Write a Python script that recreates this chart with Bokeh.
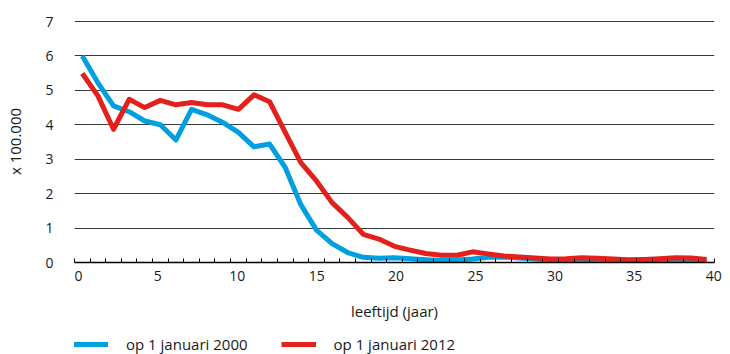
from bokeh.plotting import figure
from bokeh.layouts import column
from bokeh.models import Range1d, FixedTicker, Legend, LegendItem, LinearAxis
from bokeh.embed import file_html
from bokeh.resources import INLINE

# ages (categories 0..40)
ages = list(range(41))
age_ticks = [0, 5, 10, 15, 20, 25, 30, 35, 40]

# x 100.000
jan_2000 = [6.00, 5.22, 4.55, 4.38, 4.11, 4.00, 3.56, 4.45, 4.29, 4.07,
            3.78, 3.36, 3.44, 2.76, 1.68, 0.94, 0.55, 0.29, 0.15, 0.12,
            0.14, 0.11, 0.08, 0.06, 0.07, 0.10, 0.15, 0.16, 0.13, 0.10,
            0.07, 0.06, 0.05, 0.04, 0.03, 0.02, 0.02, 0.02, 0.02, 0.02, 0.01]
jan_2012 = [5.49, 4.84, 3.87, 4.74, 4.50, 4.71, 4.58, 4.65, 4.58, 4.58,
            4.45, 4.87, 4.67, 3.78, 2.90, 2.37, 1.74, 1.31, 0.82, 0.68,
            0.47, 0.36, 0.26, 0.21, 0.21, 0.31, 0.25, 0.19, 0.16, 0.13,
            0.10, 0.11, 0.14, 0.12, 0.10, 0.08, 0.09, 0.11, 0.14, 0.13, 0.09]
series_names = ["op 1 januari 2000", "op 1 januari 2012"]
colors = ["#009FE0", "#E3201B"]

FONT = "Open Sans"
TXT = "#1a1a1a"

p = figure(width=730, height=334, output_backend="svg", toolbar_location=None,
           x_range=Range1d(-0.5, 40.5), y_range=Range1d(0, 7.03),
           min_border_left=74, min_border_right=16, min_border_top=20, min_border_bottom=72)
p.outline_line_color = None
p.background_fill_color = "white"
p.border_fill_color = "white"
# the age labels of the original sit on a slightly wider scale than the categories
p.extra_x_ranges = {"labels": Range1d(-0.25, 40.05)}

# x axis line with small inward ticks on the category boundaries
xa = p.xaxis[0]
xa.ticker = FixedTicker(ticks=[], minor_ticks=[a - 0.5 for a in ages] + [40.5])
xa.major_tick_in = 0
xa.major_tick_out = 0
xa.minor_tick_in = 4
xa.minor_tick_out = 0
xa.minor_tick_line_color = "#000000"
xa.axis_line_color = "#000000"
xa.axis_line_width = 1.3
xa.major_label_standoff = 0
xa.axis_label_standoff = 0

# age labels and axis title
xl = LinearAxis(x_range_name="labels", ticker=FixedTicker(ticks=age_ticks),
                axis_line_color=None, major_tick_line_color=None, minor_tick_line_color=None,
                major_tick_in=0, major_tick_out=0, minor_tick_in=0, minor_tick_out=0,
                major_label_standoff=8, major_label_text_font=FONT,
                major_label_text_font_size="14px", major_label_text_color=TXT,
                axis_label="leeftijd (jaar)", axis_label_text_font=FONT,
                axis_label_text_font_size="15px", axis_label_text_font_style="normal",
                axis_label_text_color=TXT, axis_label_standoff=17)
p.add_layout(xl, "below")

ya = p.yaxis[0]
ya.ticker = FixedTicker(ticks=list(range(8)))
ya.axis_line_color = None
ya.major_tick_line_color = None
ya.minor_tick_line_color = None
ya.major_tick_in = 0
ya.major_tick_out = 0
ya.minor_tick_in = 0
ya.minor_tick_out = 0
ya.major_label_standoff = 21
ya.major_label_text_font = FONT
ya.major_label_text_font_size = "14px"
ya.major_label_text_color = TXT
ya.axis_label = "x 100.000"
ya.axis_label_text_font = FONT
ya.axis_label_text_font_size = "15px"
ya.axis_label_text_font_style = "normal"
ya.axis_label_text_color = TXT
ya.axis_label_standoff = 17

p.xgrid.grid_line_color = None
p.ygrid.ticker = FixedTicker(ticks=list(range(1, 8)))
p.ygrid.grid_line_color = "#3a3a3a"
p.ygrid.grid_line_width = 1

p.line(ages, jan_2000, line_color=colors[0], line_width=5, line_join="round")
p.line(ages, jan_2012, line_color=colors[1], line_width=5, line_join="round")

# legend strip below the chart (its frame is aligned with the chart frame)
nan = float("nan")
lg = figure(width=730, height=20, output_backend="svg", toolbar_location=None,
            x_range=Range1d(0, 1), y_range=Range1d(0, 1),
            x_axis_type=None, y_axis_type=None,
            min_border_left=0, min_border_right=0, min_border_top=0, min_border_bottom=0)
lg.outline_line_color = None
lg.grid.visible = False
k1 = lg.line([0, 1], [nan, nan], line_color=colors[0], line_width=5)
k2 = lg.line([0, 1], [nan, nan], line_color=colors[1], line_width=5)
legend = Legend(items=[LegendItem(label=series_names[0], renderers=[k1]),
                       LegendItem(label=series_names[1], renderers=[k2])],
                orientation="horizontal", location=(-1, 0),
                glyph_width=35, glyph_height=20, label_height=20,
                label_standoff=18, spacing=33, padding=0, margin=0,
                border_line_color=None, background_fill_alpha=0,
                label_text_font=FONT, label_text_font_size="15px",
                label_text_color=TXT)
lg.add_layout(legend, "center")

layout = column(p, lg, spacing=0)
open("out.html", "w").write(file_html(layout, INLINE))
